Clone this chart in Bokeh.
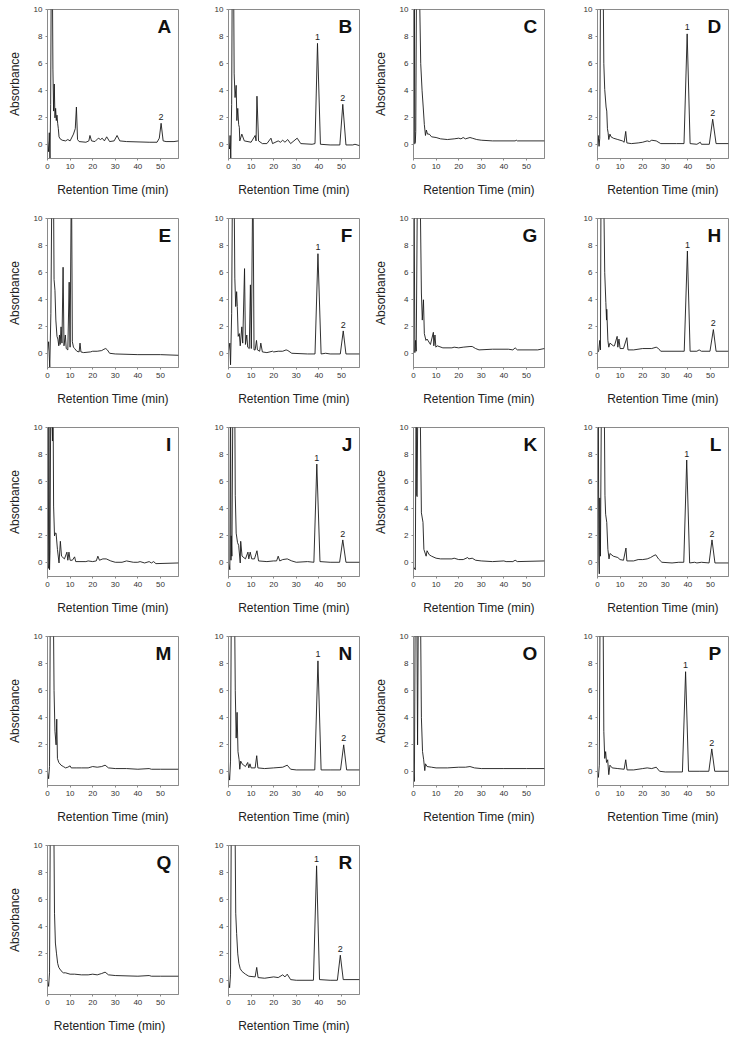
from bokeh.plotting import figure
from bokeh.layouts import column, row
from bokeh.models import FixedTicker, Label, Range1d, ColumnDataSource
from bokeh.embed import file_html
from bokeh.resources import INLINE

FONT = "Liberation Sans"

# ---- data: (retention time [min], absorbance) ----
A_pts = [(0, 0.3), (0.5, -0.5), (0.8, 0.9), (1.1, -1.0), (1.4, 3), (1.7, 14), (2.1, 14), (2.4, 5.6), (2.7, 2.5),
         (3.0, 4.5), (3.3, 2.0), (3.6, 2.7), (3.9, 1.8), (4.2, 2.2), (4.5, 1.6), (4.8, 1.2), (5.1, 0.6), (5.6, 0.45),
         (6.5, 0.35), (8, 0.3), (9, 0.4), (10, 0.3), (11.5, 0.8), (12.3, 1.2), (12.8, 2.8), (13.3, 0.4), (14, 0.25),
         (17, 0.2), (18.3, 0.3), (18.8, 0.7), (19.5, 0.3), (21, 0.25), (22.5, 0.5), (23.5, 0.4), (24.2, 0.5),
         (25.2, 0.3), (26.2, 0.6), (27.5, 0.25), (29.5, 0.3), (30.8, 0.7), (32, 0.3), (35, 0.25), (45, 0.2),
         (48.5, 0.2), (49.5, 0.5), (50.3, 1.6), (51.2, 0.3), (52.5, 0.25), (56, 0.25), (58, 0.3)]
B_pts = [(0, 0.2), (0.5, -0.3), (0.7, 0.7), (1.0, -1.0), (1.4, 3), (1.7, 14), (2.2, 14), (2.5, 5.3), (2.9, 3.5),
         (3.4, 4.4), (3.7, 1.8), (4.1, 2.7), (4.5, 1.5), (4.8, 1.3), (5.0, 0.3), (5.9, 0.8), (7, 0.3), (10, 0.2),
         (11.8, 0.7), (12.2, 0.3), (12.6, 3.6), (13.3, 0.3), (15, 0.1), (17, 0.1), (18.8, 0.5), (19.5, 0.1),
         (22, 0.3), (23, 0.2), (24, 0.35), (25, 0.2), (26.2, 0.4), (27.5, 0.1), (30.4, 0.5), (32, 0.1), (37, 0.05),
         (38.3, 0.1), (39.4, 7.5), (40.7, 0.05), (45, 0.0), (49.3, 0.0), (50.6, 3.0), (52, 0.0), (55, 0.0),
         (56, 0.05), (58, -0.05)]
C_pts = [(0, 0.0), (0.2, 0.1), (0.35, 14), (0.6, 0.1), (0.8, 0.2), (1.0, 1.0), (1.4, 14), (2.4, 14), (3.2, 6.0),
         (3.8, 4.0), (4.3, 2.8), (4.8, 1.5), (5.3, 0.7), (5.7, 1.1), (6.2, 0.8), (7, 0.8), (8, 0.6), (10, 0.55),
         (12, 0.45), (15, 0.4), (18, 0.45), (20, 0.5), (21, 0.45), (22, 0.55), (23, 0.45), (25, 0.55), (26, 0.5),
         (28, 0.4), (30, 0.35), (35, 0.3), (45, 0.3), (45.5, 0.35), (46, 0.3), (58, 0.3)]
D_pts = [(0, -0.2), (0.3, 0.7), (0.7, -0.1), (1.0, 0.5), (1.4, 14), (2.4, 14), (2.8, 6.0), (3.2, 4.1), (3.8, 2.8),
         (4.1, 2.5), (4.4, 1.2), (4.7, 0.9), (5.0, 0.4), (5.5, 0.8), (6, 0.6), (7, 0.5), (9, 0.4), (11, 0.3),
         (11.8, 0.2), (12.5, 1.0), (13, 0.15), (15, 0.1), (18, 0.15), (20, 0.2), (22, 0.3), (23, 0.25), (24, 0.35),
         (26, 0.3), (28, 0.1), (35, 0.1), (38.3, 0.1), (39.7, 8.2), (41, 0.1), (44, 0.05), (45.5, 0.2), (46, 0.05),
         (49.5, 0.05), (51.0, 1.9), (52.5, 0.1), (58, 0.1)]
E_pts = [(0, 0.2), (0.5, 0.9), (1.0, -1.0), (1.5, 3), (2.0, 14), (2.6, 14), (2.9, 5.5), (3.3, 4.7), (3.7, 2.5),
         (4.2, 1.3), (4.6, 1.1), (5.0, 0.6), (5.3, 1.4), (5.6, 0.7), (6.0, 2.0), (6.4, 0.8), (6.9, 6.4), (7.3, 0.6),
         (7.9, 1.4), (8.3, 0.4), (9.0, 0.3), (9.6, 5.3), (10.0, 0.5), (10.6, 14), (11.0, 0.9), (11.5, 0.5),
         (12, 0.4), (13, 0.2), (14, 0.15), (14.4, 0.8), (14.8, 0.15), (16, 0.1), (19, 0.15), (20, 0.2), (22, 0.2),
         (24, 0.25), (25, 0.35), (25.8, 0.4), (26.5, 0.3), (27.5, 0.05), (30, 0.0), (40, -0.05), (50, -0.05),
         (58, -0.1)]
F_pts = [(0, 0.2), (0.6, 0.8), (0.9, -0.8), (1.4, 3), (1.8, 14), (2.4, 14), (2.8, 5.6), (3.2, 3.5), (3.6, 4.6),
         (3.9, 3.5), (4.3, 1.3), (4.8, 1.5), (5.2, 0.6), (5.9, 2.0), (6.3, 0.8), (7.1, 6.3), (7.5, 0.7), (8.1, 1.4),
         (8.5, 0.5), (9.2, 0.4), (9.7, 5.1), (10.1, 0.4), (10.8, 14), (11.3, 0.3), (11.8, 0.3), (12.4, 1.0),
         (12.8, 0.3), (13.8, 0.2), (14.3, 0.8), (15, 0.15), (17, 0.1), (19.5, 0.2), (20, 0.15), (22, 0.2),
         (24, 0.2), (25.5, 0.3), (26.3, 0.25), (28, 0.05), (35, 0.0), (38.3, 0.0), (39.6, 7.4), (41, 0.0),
         (43, 0.05), (45, 0.0), (49.5, 0.0), (50.8, 1.7), (52, 0.0), (58, 0.0)]
G_pts = [(0, 0.1), (0.2, 14), (0.6, 0.1), (0.9, 1.0), (1.2, 0.2), (1.8, 14), (2.8, 14), (3.5, 4.5), (3.9, 2.5),
         (4.4, 4.0), (4.8, 1.5), (5.5, 1.0), (6, 1.1), (7.5, 0.7), (8.8, 1.6), (9.0, 0.6), (9.5, 1.4), (9.9, 0.5),
         (10.5, 0.6), (13, 0.45), (17, 0.45), (18, 0.5), (20, 0.45), (22, 0.5), (25, 0.55), (26, 0.55),
         (27.5, 0.4), (29, 0.3), (35, 0.35), (42, 0.35), (44, 0.3), (45, 0.45), (46, 0.3), (55, 0.3), (58, 0.4)]
H_pts = [(0, 0.1), (0.5, 0.2), (1.0, 1.0), (1.3, 0.3), (1.6, 14), (2.6, 14), (3.2, 6.0), (3.7, 3.8), (4.0, 2.5),
         (4.1, 3.3), (4.6, 1.0), (5.0, 0.5), (5.5, 0.8), (7, 0.6), (7.5, 0.6), (8.7, 1.3), (9.0, 0.5), (9.5, 1.1),
         (10, 0.4), (11.5, 0.4), (13, 1.2), (13.5, 0.3), (16, 0.3), (20, 0.4), (24, 0.4), (26, 0.5), (27, 0.4),
         (28, 0.2), (37, 0.2), (38.4, 0.2), (39.8, 7.6), (41, 0.2), (44, 0.2), (45, 0.3), (46, 0.2), (49.8, 0.2),
         (51.3, 1.8), (52.5, 0.2), (58, 0.2)]
I_pts = [(0, 0.0), (0.4, -0.4), (0.6, 14), (0.9, -0.5), (1.1, 0.9), (1.5, 14), (2.2, 9.0), (2.4, 14), (2.7, 4.2),
         (3.1, 2.0), (3.4, 2.2), (3.8, 2.2), (4.4, 1.0), (5.1, 0.0), (5.7, 1.6), (6.2, 0.5), (7.5, 0.3), (8.6, 0.8),
         (9.0, 0.2), (9.5, 0.8), (10, 0.2), (11, 0.2), (12, 0.45), (12.5, 0.1), (17, 0.1), (18, 0.15), (20, 0.1),
         (21.6, 0.15), (22.3, 0.5), (23, 0.2), (24.5, 0.3), (26, 0.3), (28, 0.15), (30, 0.05), (33, 0.05),
         (35, 0.15), (38, 0.05), (40, 0.05), (41, 0.1), (43, 0.0), (45, 0.1), (46, 0.0), (47, 0.1), (48, -0.05),
         (58, 0.0)]
J_pts = [(0, 0.0), (0.6, -0.5), (0.9, 14), (1.1, 0.2), (1.2, 2.0), (1.5, 0.5), (2.0, 14), (2.7, 14), (3.0, 5.0),
         (3.4, 2.2), (4.0, 1.5), (4.5, 1.3), (5.2, 0.0), (5.4, 1.6), (6, 0.5), (7.5, 0.3), (8.6, 0.8), (9.0, 0.3),
         (9.6, 0.8), (10.3, 0.3), (11.5, 0.3), (12.6, 0.9), (13.3, 0.15), (17, 0.1), (20, 0.15), (21.3, 0.15),
         (22, 0.5), (22.7, 0.15), (24, 0.25), (26, 0.3), (28, 0.15), (30, 0.05), (35, 0.1), (37.8, 0.05),
         (39.1, 7.3), (40.5, 0.1), (45, 0.05), (49.2, 0.05), (50.6, 1.7), (52, 0.05), (58, 0.05)]
K_pts = [(0, -0.3), (0.8, -0.5), (1.2, 14), (1.4, 5.0), (1.6, 4.9), (2.0, 14), (2.8, 14), (3.5, 3.7), (4.2, 3.0),
         (4.6, 1.0), (5.6, 0.5), (6, 0.9), (7, 0.6), (8, 0.5), (10, 0.35), (12, 0.3), (17, 0.3), (18, 0.35),
         (20, 0.25), (22, 0.25), (24, 0.4), (24.5, 0.3), (26, 0.35), (27.5, 0.2), (30, 0.15), (35, 0.1), (40, 0.15),
         (41, 0.1), (44, 0.1), (45, 0.2), (46, 0.1), (58, 0.15)]
L_pts = [(0, 0.0), (0.3, 14), (0.6, 0.2), (0.8, -0.8), (1.0, 4.8), (1.3, 0.5), (1.8, 14), (2.9, 14), (3.3, 5.0),
         (3.6, 3.6), (4.1, 3.0), (4.6, 1.0), (5.1, 0.3), (5.5, 0.7), (7, 0.5), (9, 0.4), (10, 0.25), (11.5, 0.2),
         (12.6, 1.1), (13, 0.15), (16, 0.15), (18, 0.25), (20, 0.25), (22, 0.3), (23.5, 0.4), (25, 0.55),
         (25.8, 0.6), (27, 0.3), (28.5, 0.05), (33, 0.0), (36, 0.05), (38.2, 0.05), (39.5, 7.6), (40.8, 0.0),
         (43, 0.05), (44, 0.0), (46, 0.05), (49.4, 0.0), (50.7, 1.7), (52, 0.0), (58, 0.0)]
M_pts = [(0, 0.0), (0.5, -0.5), (0.9, 0.4), (1.3, 14), (2.5, 14), (2.9, 6.0), (3.3, 3.0), (3.8, 2.0), (4.1, 3.9),
         (4.4, 1.0), (5, 0.7), (6, 0.5), (7, 0.4), (8, 0.3), (9, 0.35), (10, 0.45), (10.5, 0.3), (13, 0.3),
         (15, 0.3), (18, 0.3), (20, 0.4), (22, 0.35), (24, 0.4), (25.5, 0.5), (27, 0.3), (30, 0.25), (35, 0.25),
         (40, 0.2), (45, 0.25), (46, 0.2), (50, 0.2), (58, 0.2)]
N_pts = [(0, 0.0), (0.5, -0.6), (0.9, 0.8), (1.3, 14), (2.6, 14), (3.0, 6.0), (3.4, 2.5), (3.8, 4.4), (4.2, 1.5),
         (4.7, 0.9), (5.0, 0.2), (5.4, 0.8), (6, 0.6), (7.5, 0.4), (8.5, 0.7), (9, 0.3), (9.5, 0.6), (10, 0.3),
         (11.8, 0.3), (12.5, 1.2), (13, 0.3), (16, 0.25), (20, 0.3), (24, 0.35), (26, 0.5), (27.5, 0.2),
         (30, 0.15), (38.2, 0.15), (39.6, 8.2), (41, 0.15), (45, 0.15), (49.6, 0.15), (51, 2.0), (52.3, 0.15),
         (58, 0.15)]
O_pts = [(0, 0.0), (0.4, -0.7), (0.8, 14), (1.4, 14), (1.8, 2.0), (2.2, 14), (3.0, 14), (3.5, 4.0), (4.0, 1.5),
         (4.5, 0.9), (5.0, 0.1), (5.3, 0.6), (6, 0.4), (8, 0.35), (10, 0.3), (15, 0.3), (20, 0.35), (23, 0.35),
         (25, 0.4), (27, 0.3), (30, 0.25), (40, 0.25), (50, 0.25), (58, 0.25)]
P_pts = [(0, 0.0), (0.4, -0.4), (0.8, 0.5), (1.2, 14), (2.4, 14), (2.8, 3.0), (3.2, 1.0), (3.6, 1.5), (4.0, 0.7),
         (4.5, 0.9), (5.0, -0.2), (5.5, 0.5), (6.5, 0.3), (9, 0.25), (11.8, 0.2), (12.5, 0.9), (13.1, 0.15),
         (16, 0.15), (20, 0.25), (22, 0.3), (24, 0.25), (26, 0.35), (27.5, 0.05), (30, 0.0), (37.6, 0.0),
         (39.0, 7.4), (40.3, 0.05), (45, 0.05), (49.3, 0.05), (50.6, 1.7), (51.9, 0.05), (58, 0.05)]
Q_pts = [(0, 0.0), (0.5, -0.4), (0.9, 0.6), (1.3, 14), (2.7, 14), (3.1, 5.0), (3.5, 2.8), (4, 2.0), (4.5, 1.3),
         (5, 1.0), (6, 0.75), (7, 0.6), (8, 0.6), (10, 0.5), (12, 0.5), (15, 0.45), (18, 0.45), (20, 0.5),
         (22, 0.45), (24, 0.55), (25.5, 0.65), (27, 0.45), (30, 0.4), (40, 0.35), (45, 0.4), (46, 0.35),
         (50, 0.35), (58, 0.35)]
R_pts = [(0, 0.0), (0.5, -0.5), (0.9, 0.5), (1.3, 14), (2.8, 14), (3.2, 5.0), (3.6, 3.5), (4.1, 2.0), (4.6, 1.3),
         (5.2, 0.9), (6, 0.7), (7.5, 0.5), (9, 0.35), (11.8, 0.3), (12.5, 1.0), (13.1, 0.25), (16, 0.2),
         (20, 0.3), (22, 0.25), (24, 0.45), (25, 0.3), (26, 0.5), (27.5, 0.1), (30, 0.05), (37.6, 0.05),
         (39.0, 8.5), (40.3, 0.1), (45, 0.05), (48.2, 0.05), (49.5, 1.9), (50.8, 0.1), (52, 0.1), (58, 0.1)]

# peak annotations: (label, time, apex absorbance)
A_peaks = [("2", 50.3, 1.6)]
B_peaks = [("1", 39.4, 7.5), ("2", 50.6, 3.0)]
D_peaks = [("1", 39.7, 8.2), ("2", 51.0, 1.9)]
F_peaks = [("1", 39.6, 7.4), ("2", 50.8, 1.7)]
H_peaks = [("1", 39.8, 7.6), ("2", 51.3, 1.8)]
J_peaks = [("1", 39.1, 7.3), ("2", 50.6, 1.7)]
L_peaks = [("1", 39.5, 7.6), ("2", 50.7, 1.7)]
N_peaks = [("1", 39.6, 8.2), ("2", 51.0, 2.0)]
P_peaks = [("1", 39.0, 7.4), ("2", 50.6, 1.7)]
R_peaks = [("1", 39.0, 8.5), ("2", 49.5, 1.9)]

letters = ["A", "B", "C", "D", "E", "F", "G", "H", "I", "J", "K", "L", "M", "N", "O", "P", "Q", "R"]
series = [A_pts, B_pts, C_pts, D_pts, E_pts, F_pts, G_pts, H_pts, I_pts, J_pts, K_pts, L_pts,
          M_pts, N_pts, O_pts, P_pts, Q_pts, R_pts]
peaks = [A_peaks, B_peaks, [], D_peaks, [], F_peaks, [], H_peaks, [], J_peaks, [], L_peaks,
         [], N_peaks, [], P_peaks, [], R_peaks]
x_ticks = [0, 10, 20, 30, 40, 50]
y_ticks = [0, 2, 4, 6, 8, 10]
x_title = "Retention Time (min)"
y_title = "Absorbance"

# ---- layout ----
FW, FH = 131, 149
BL = [47, 40, 43, 43]
BR = [10, 11, 10, 6]
FRAME_C = "#8a8a8a"
TEXT_C = "#333333"


def make_panel(i):
    col, rw = i % 4, i // 4
    last = rw == 4
    p = figure(frame_width=FW, frame_height=FH, output_backend="svg", toolbar_location=None,
               x_range=Range1d(0, 58), y_range=Range1d(-1, 10))
    p.min_border = 0
    p.min_border_left = BL[col]
    p.min_border_right = BR[col]
    p.min_border_top = 9
    p.min_border_bottom = 44 if last else 51
    p.outline_line_color = FRAME_C
    p.outline_line_width = 1
    p.grid.visible = False
    p.background_fill_color = "white"
    p.border_fill_color = "white"

    pts = series[i]
    src = ColumnDataSource(dict(t=[a for a, b in pts], y=[b for a, b in pts]))
    p.line("t", "y", source=src, line_color="#1a1a1a", line_width=0.9)

    for ax in (p.xaxis[0], p.yaxis[0]):
        ax.axis_line_color = FRAME_C
        ax.major_tick_line_color = FRAME_C
        ax.major_tick_out = 2
        ax.major_tick_in = 0
        ax.minor_tick_line_color = None
        ax.major_label_text_font = FONT
        ax.major_label_text_font_size = "8px"
        ax.major_label_text_color = TEXT_C
        ax.major_label_standoff = 3
        ax.axis_label_text_font = FONT
        ax.axis_label_text_font_style = "normal"
        ax.axis_label_text_font_size = "12px"
        ax.axis_label_text_color = "#222222"
    p.xaxis[0].ticker = FixedTicker(ticks=x_ticks)
    p.yaxis[0].ticker = FixedTicker(ticks=y_ticks)
    p.xaxis[0].axis_label = "Retention Time   (min)" if letters[i] == "Q" else x_title
    p.xaxis[0].axis_label_standoff = 11
    if col in (0, 2):
        p.yaxis[0].axis_label = y_title
        p.yaxis[0].axis_label_standoff = 9

    p.add_layout(Label(x=54.8, y=9.55, text=letters[i], text_align="right", text_baseline="top",
                       text_font=FONT, text_font_style="bold", text_font_size="19px",
                       text_color="#111111"))
    for lab, t, h in peaks[i]:
        p.add_layout(Label(x=t, y=h + 0.25, text=lab, text_align="center", text_baseline="bottom",
                           text_font=FONT, text_font_size="9px", text_color="#222222"))
    return p


figs = [make_panel(i) for i in range(len(letters))]
rows = [row(*figs[r * 4:(r + 1) * 4], spacing=0) for r in range(5)]
layout = column(*rows, spacing=0)

with open("out.html", "w") as f:
    f.write(file_html(layout, INLINE))
